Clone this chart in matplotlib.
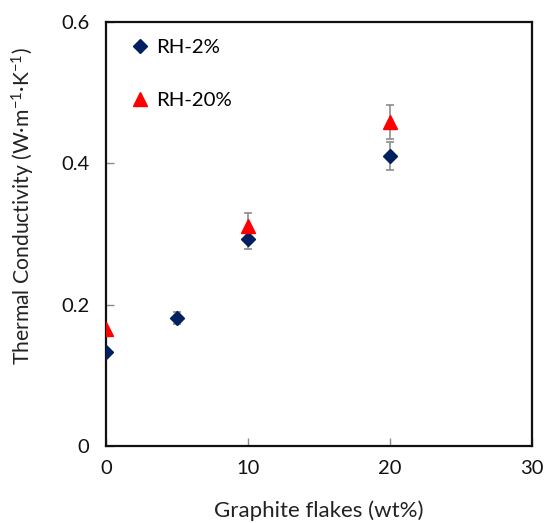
import matplotlib
matplotlib.use("Agg")
import matplotlib.pyplot as plt

plt.rcParams['font.family'] = ['Lato', 'DejaVu Sans']
plt.rcParams['mathtext.fontset'] = 'custom'
plt.rcParams['mathtext.rm'] = 'Lato'
plt.rcParams['mathtext.it'] = 'Lato:italic'

x_rh2 = [0, 5, 10, 20]
y_rh2 = [0.133, 0.181, 0.293, 0.410]
e_rh2 = [0.0, 0.009, 0.014, 0.020]

x_rh20 = [0, 10, 20]
y_rh20 = [0.166, 0.311, 0.459]
e_rh20 = [0.0, 0.019, 0.024]

labels = ['RH-2%', 'RH-20%']

fig = plt.figure(figsize=(5.46, 5.23), dpi=100)
ax = fig.add_axes([106/546, 77/523, 426/546, 424/523])

ax.errorbar(x_rh2, y_rh2, yerr=e_rh2, fmt='D', color='#002060', markersize=7.5,
            ecolor='#8c8c8c', elinewidth=1.2, capsize=3, capthick=1.2, label=labels[0],
            zorder=3)
ax.errorbar(x_rh20, y_rh20, yerr=e_rh20, fmt='^', color='#ff0000', markersize=10,
            ecolor='#8c8c8c', elinewidth=1.2, capsize=3, capthick=1.2, label=labels[1],
            zorder=3)

ax.set_xlim(0, 30)
ax.set_ylim(0, 0.6)
ax.set_xticks([0, 10, 20, 30])
ax.set_xticklabels(['0', '10', '20', '30'])
ax.set_yticks([0, 0.2, 0.4, 0.6])
ax.set_yticklabels(['0', '0.2', '0.4', '0.6'])
ax.tick_params(direction='in', length=6, width=1, color='#8c8c8c', labelsize=14.5,
               labelcolor='#111111')
ax.tick_params(axis='y', pad=12)
ax.tick_params(axis='x', pad=10)

for s in ax.spines.values():
    s.set_linewidth(1.6)
    s.set_color('#111111')

ax.set_xlabel('Graphite flakes (wt%)', fontsize=16, color='#222222')
ax.set_ylabel(r'Thermal Conductivity (W·m$^{\mathregular{-1}}$·K$^{\mathregular{-1}}$)',
              fontsize=15.2, color='#222222')
ax.xaxis.set_label_coords(0.5, -0.128)
ax.yaxis.set_label_coords(-0.162, 0.565)

handles, lbls = ax.get_legend_handles_labels()
handles = [h[0] for h in handles]
ax.legend(handles, lbls, loc='upper left', bbox_to_anchor=(0.03, 0.99), frameon=False,
          fontsize=14.7, labelspacing=1.75, handlelength=0.9, handletextpad=0.35,
          borderaxespad=0.2)

fig.savefig('out.png', dpi=100)
